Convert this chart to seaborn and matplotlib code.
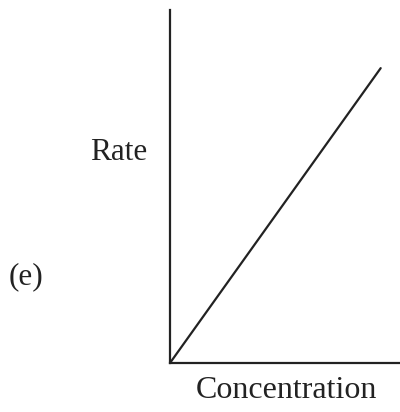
import matplotlib
matplotlib.use("Agg")
import matplotlib.pyplot as plt
import seaborn as sns
import pandas as pd

concentration = [0.0, 0.92]
rate = [0.0, 0.835]

sns.set_style("white")
plt.rcParams['font.family'] = ['Liberation Serif', 'DejaVu Serif']

df = pd.DataFrame({'Concentration': concentration, 'Rate': rate})

fig = plt.figure(figsize=(4.0, 4.12), dpi=100)
ax = fig.add_axes([0.425, 0.119, 0.5725, 0.857])
sns.lineplot(data=df, x='Concentration', y='Rate', color='#222222', linewidth=1.6, ax=ax)
ax.set_xlim(0, 1)
ax.set_ylim(0, 1)
ax.set_xticks([])
ax.set_yticks([])
ax.set_xlabel('')
ax.set_ylabel('')
sns.despine(ax=ax)
for side in ['left', 'bottom']:
    ax.spines[side].set_color('#222222')
    ax.spines[side].set_linewidth(1.6)

fig.text(0.296, 1 - 153 / 412, 'Rate', fontsize=22.5, ha='center', va='center', color='#222222')
fig.text(0.066, 1 - 277 / 412, '(e)', fontsize=22.5, ha='center', va='center', color='#222222')
fig.text(0.715, 1 - 391 / 412, 'Concentration', fontsize=23, ha='center', va='center', color='#222222')

fig.savefig('out.png', dpi=100, facecolor='white')
